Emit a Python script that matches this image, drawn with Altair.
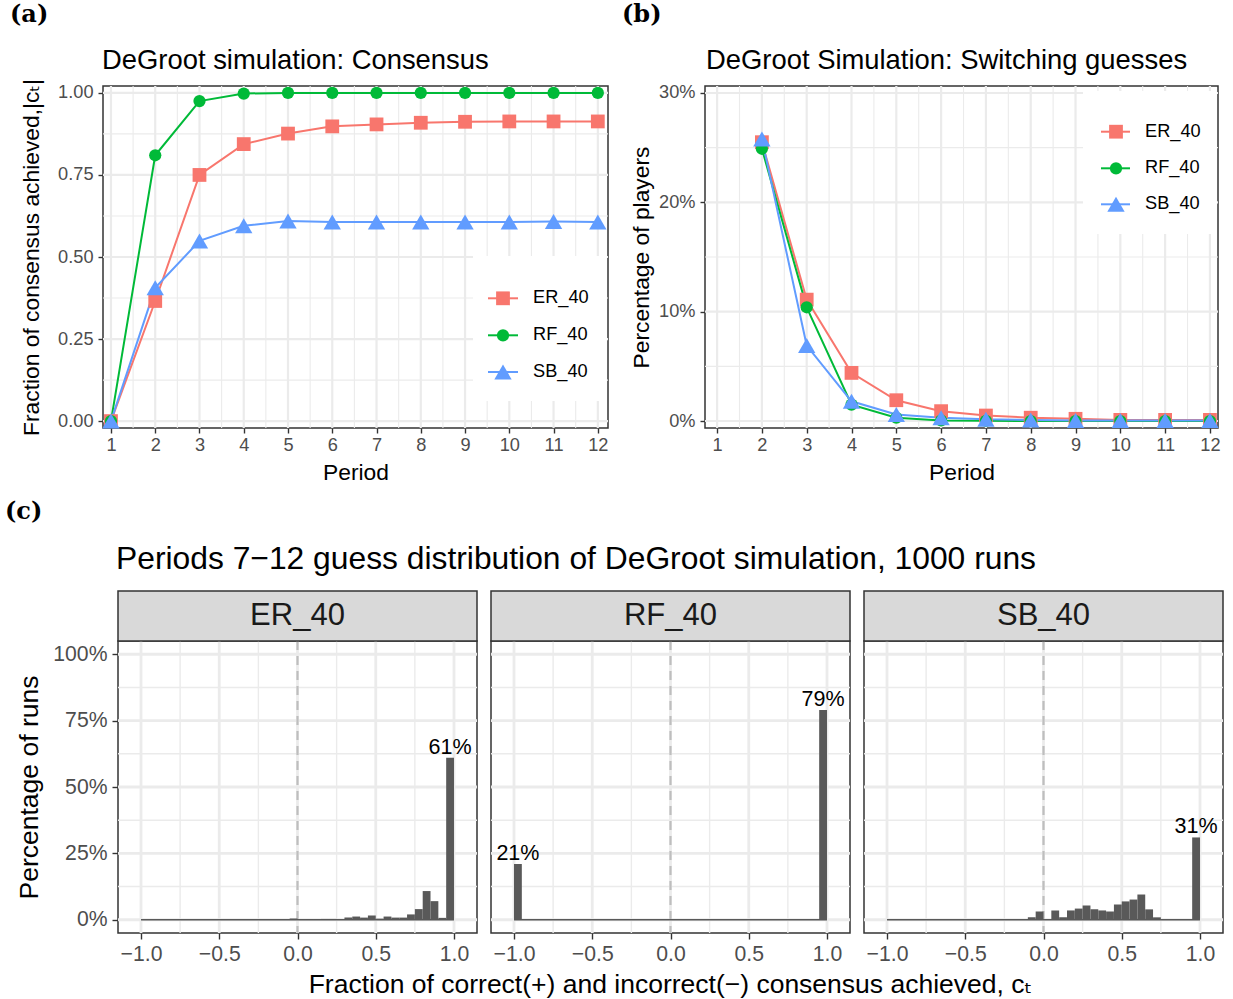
import altair as alt
import pandas as pd

FONT = "Liberation Sans, Arial, Helvetica, DejaVu Sans, sans-serif"
SERIF = "DejaVu Serif, Liberation Serif, serif"
GRID = "#EBEBEB"
BORDER = "#333333"
LABEL = "#4D4D4D"
BARC = "#595959"

# ---------------- data ----------------
series = ["ER_40", "RF_40", "SB_40"]
series_colors = ["#F8766D", "#00BA38", "#619CFF"]
series_shapes = ["square", "circle", "triangle-up"]
series_sizes = [190, 150, 300]

periods_a = [1, 2, 3, 4, 5, 6, 7, 8, 9, 10, 11, 12]
cons_er = [0.0, 0.366, 0.750, 0.844, 0.876, 0.898, 0.904, 0.909, 0.912, 0.913, 0.913, 0.913]
cons_rf = [0.0, 0.810, 0.975, 0.998, 1.0, 1.0, 1.0, 1.0, 1.0, 1.0, 1.0, 1.0]
cons_sb = [0.0, 0.406, 0.549, 0.595, 0.610, 0.607, 0.607, 0.607, 0.607, 0.607, 0.608, 0.607]

periods_b = [2, 3, 4, 5, 6, 7, 8, 9, 10, 11, 12]
sw_er = [25.5, 11.1, 4.4, 1.9, 0.9, 0.5, 0.3, 0.2, 0.1, 0.1, 0.1]
sw_rf = [24.9, 10.4, 1.5, 0.3, 0.05, 0.02, 0.0, 0.0, 0.0, 0.0, 0.0]
sw_sb = [25.8, 6.9, 1.8, 0.6, 0.3, 0.15, 0.1, 0.05, 0.05, 0.05, 0.05]

bin_width = 0.05
bin_left = [round(-1.0 + bin_width * i, 2) for i in range(40)]
hist_er = [0, 0, 0, 0, 0, 0, 0, 0, 0, 0, 0, 0, 0, 0, 0, 0, 0, 0, 0, 0.5,
           0, 0.3, 0.3, 0.3, 0.3, 0.3, 0.8, 1.2, 0.8, 1.6, 0.4, 1.2, 0.8, 0.8, 2.0, 4.0, 10.8, 7.0, 0.7, 61.0]
hist_rf = [21.0, 0, 0, 0, 0, 0, 0, 0, 0, 0, 0, 0, 0, 0, 0, 0, 0, 0, 0, 0,
           0, 0, 0, 0, 0, 0, 0, 0, 0, 0, 0, 0, 0, 0, 0, 0, 0, 0, 0, 79.0]
hist_sb = [0, 0, 0, 0, 0, 0, 0, 0, 0, 0, 0, 0, 0, 0, 0, 0, 0, 0, 0.9, 3.1,
           0, 3.5, 0.9, 3.5, 4.2, 5.4, 3.9, 3.5, 3.1, 5.7, 6.9, 7.6, 9.5, 3.9, 0.9, 0, 0, 0, 0, 31.0]

one = pd.DataFrame({"k": [0]})


def axis_kw(label_size, title_size, tick_size, label_pad):
    return dict(grid=False, domain=False, ticks=True, tickColor=BORDER, tickWidth=1.4,
                tickSize=tick_size, labelColor=LABEL, labelFont=FONT, labelFontSize=label_size,
                labelPadding=label_pad, labelFlush=False, labelOverlap=False,
                titleFont=FONT, titleFontSize=title_size, titleFontWeight="normal",
                titleColor="black", titleAlign="center", titleBaseline="alphabetic")


def vrules(vals, xf, w):
    return alt.Chart(pd.DataFrame({"gx": vals})).mark_rule(color=GRID, strokeWidth=w).encode(x=xf("gx"))


def hrules(vals, yf, w):
    return alt.Chart(pd.DataFrame({"gy": vals})).mark_rule(color=GRID, strokeWidth=w).encode(y=yf("gy"))


def text_at(txt, x, y, size, align="left", baseline="alphabetic", font=FONT, weight="normal", color="black"):
    return alt.Chart(one).mark_text(text=txt, align=align, baseline=baseline, font=font,
                                    fontSize=size, fontWeight=weight, color=color).encode(
        x=alt.value(x), y=alt.value(y))


def legend_layers(x0, x1, xs, xt, ys, box):
    out = [alt.Chart(one).mark_rect(fill="white").encode(
        x=alt.value(box[0]), x2=alt.value(box[1]), y=alt.value(box[2]), y2=alt.value(box[3]))]
    for s, c, sh, sz, yy in zip(series, series_colors, series_shapes, series_sizes, ys):
        out.append(alt.Chart(one).mark_rule(color=c, strokeWidth=2).encode(
            x=alt.value(x0), x2=alt.value(x1), y=alt.value(yy)))
        out.append(alt.Chart(one).mark_point(filled=True, opacity=1, color=c, shape=sh, size=sz).encode(
            x=alt.value(xs), y=alt.value(yy)))
        out.append(text_at(s, xt, yy, 18.2, baseline="middle"))
    return out


def series_layers(periods, ys_list, xf, yf):
    df = pd.DataFrame({"period": periods * 3,
                       "value": ys_list[0] + ys_list[1] + ys_list[2],
                       "series": [s for s in series for _ in periods]})
    lines = []
    pts = []
    for s, c, sh, sz in zip(series, series_colors, series_shapes, series_sizes):
        d = df[df.series == s]
        lines.append(alt.Chart(d).mark_line(color=c, strokeWidth=2).encode(x=xf("period"), y=yf("value")))
        pts.append(alt.Chart(d).mark_point(filled=True, opacity=1, color=c, shape=sh, size=sz).encode(
            x=xf("period"), y=yf("value")))
    return lines + pts


VIEW = alt.ViewBackground(stroke=BORDER, strokeWidth=1.5, fill="white")

# ---------------- panel (a) ----------------
WA, HA = 505, 342
xs_a = alt.Scale(domain=[0.82, 12.23], nice=False, zero=False)
ys_a = alt.Scale(domain=[-0.021, 1.021], nice=False, zero=False)
top_kw = axis_kw(18.2, 22.8, 5, 3)
xax_a = alt.Axis(values=periods_a, format="d", title="Period", titleX=WA / 2, titleY=51, **top_kw)
yax_a = alt.Axis(values=[0, 0.25, 0.5, 0.75, 1.0], format=".2f",
                 title="Fraction of consensus achieved,|cₜ|", titleAngle=270,
                 titleX=-64.5, titleY=HA / 2, **{**top_kw, "labelPadding": 5})


def xa(f):
    return alt.X(f"{f}:Q", scale=xs_a, axis=xax_a)


def ya(f):
    return alt.Y(f"{f}:Q", scale=ys_a, axis=yax_a)


minor_x_top = [1.5, 2.5, 3.5, 4.5, 5.5, 6.5, 7.5, 8.5, 9.5, 10.5, 11.5]
layers_a = [
    vrules(minor_x_top, xa, 1.1),
    hrules([0.125, 0.375, 0.625, 0.875], ya, 1.1),
    vrules(periods_a, xa, 2.2),
    hrules([0, 0.25, 0.5, 0.75, 1.0], ya, 2.2),
]
layers_a += series_layers(periods_a, [cons_er, cons_rf, cons_sb], xa, ya)
layers_a += legend_layers(385, 415, 400, 430, [212.3, 249.3, 286.0], [370, 504, 170, 315])
layers_a += [
    text_at("DeGroot simulation: Consensus", -1, -17, 27.4),
    text_at("(a)", -93, -83, 24, baseline="top", font=SERIF, weight="bold"),
]
panel_a = alt.layer(*layers_a).properties(width=WA, height=HA, view=VIEW)

# ---------------- panel (b) ----------------
WB, HB = 513, 342
xs_b = alt.Scale(domain=[0.73, 12.18], nice=False, zero=False)
ys_b = alt.Scale(domain=[-0.64, 30.64], nice=False, zero=False)
xax_b = alt.Axis(values=periods_a, format="d", title="Period", titleX=WB / 2, titleY=51, **top_kw)
yax_b = alt.Axis(values=[0, 10, 20, 30], labelExpr="datum.value + '%'",
                 title="Percentage of players", titleAngle=270,
                 titleX=-56.5, titleY=HB / 2, **{**top_kw, "labelPadding": 5})


def xb(f):
    return alt.X(f"{f}:Q", scale=xs_b, axis=xax_b)


def yb(f):
    return alt.Y(f"{f}:Q", scale=ys_b, axis=yax_b)


layers_b = [
    vrules(minor_x_top, xb, 1.1),
    hrules([5, 15, 25], yb, 1.1),
    vrules(periods_a, xb, 2.2),
    hrules([0, 10, 20, 30], yb, 2.2),
]
layers_b += series_layers(periods_b, [sw_er, sw_rf, sw_sb], xb, yb)
layers_b += legend_layers(396, 425, 411, 440, [45.7, 82.3, 118.3], [378, 512, 5, 148])
layers_b += [
    text_at("DeGroot Simulation: Switching guesses", 1, -17, 27.4),
    text_at("(b)", -83, -83, 24, baseline="top", font=SERIF, weight="bold"),
]
panel_b = alt.layer(*layers_b).properties(width=WB, height=HB, view=VIEW)

# ---------------- panel (c) ----------------
WC, HC = 359, 292
xs_c = alt.Scale(domain=[-1.147, 1.147], nice=False, zero=False)
ys_c = alt.Scale(domain=[-5, 105], nice=False, zero=False)
bot_kw = axis_kw(21.2, 26.5, 6, 4)


def facet_panel(name, vals, first, extra):
    xax = alt.Axis(values=[-1.0, -0.5, 0.0, 0.5, 1.0], format=".1f", title=None, **bot_kw)
    if first:
        yax = alt.Axis(values=[0, 25, 50, 75, 100], labelExpr="datum.value + '%'",
                       title="Percentage of runs", titleAngle=270, titleX=-81, titleY=HC / 2,
                       **{**bot_kw, "labelPadding": 5})
    else:
        yax = None

    def xc(f):
        return alt.X(f"{f}:Q", scale=xs_c, axis=xax)

    def yc(f):
        return alt.Y(f"{f}:Q", scale=ys_c, axis=yax)

    df = pd.DataFrame({"lo": bin_left, "pct": vals})
    df["hi"] = df["lo"] + bin_width
    df["mid"] = df["lo"] + bin_width / 2
    lab = df[df["pct"] >= 15].copy()
    lab["txt"] = lab["pct"].round().astype(int).astype(str) + "%"
    base = pd.DataFrame({"a": [bin_left[0]], "b": [bin_left[-1] + bin_width], "z": [0.0]})

    layers = [
        vrules([-0.75, -0.25, 0.25, 0.75], xc, 1.4),
        hrules([12.5, 37.5, 62.5, 87.5], yc, 1.4),
        vrules([-1.0, -0.5, 0.0, 0.5, 1.0], xc, 2.8),
        hrules([0, 25, 50, 75, 100], yc, 2.8),
        alt.Chart(pd.DataFrame({"v0": [0.0]})).mark_rule(color="#BEBEBE", strokeWidth=2.2,
                                                         strokeDash=[9, 6]).encode(x=xc("v0")),
        alt.Chart(base).mark_rule(color=BARC, strokeWidth=1.5).encode(x=xc("a"), x2="b:Q", y=yc("z")),
        alt.Chart(df).mark_rect(color=BARC).encode(x=xc("lo"), x2="hi:Q", y=yc("pct"), y2=alt.datum(0)),
        alt.Chart(lab).mark_text(font=FONT, fontSize=21.5, baseline="alphabetic", dy=-4,
                                 color="black").encode(x=xc("mid"), y=yc("pct"), text="txt:N"),
        alt.Chart(one).mark_rect(fill="#D9D9D9", stroke=BORDER, strokeWidth=1.5).encode(
            x=alt.value(0), x2=alt.value(WC), y=alt.value(-50), y2=alt.value(0)),
        text_at(name, WC / 2, -25, 31, align="center", baseline="middle", color="#1A1A1A"),
    ]
    layers += extra
    return alt.layer(*layers).properties(width=WC, height=HC, view=VIEW)


c1 = facet_panel("ER_40", hist_er, True, [
    text_at("Periods 7−12 guess distribution of DeGroot simulation, 1000 runs", -2, -72, 31.8),
    text_at("(c)", -113, -141, 24, baseline="top", font=SERIF, weight="bold"),
])
c2 = facet_panel("RF_40", hist_rf, False, [
    text_at("Fraction of correct(+) and incorrect(−) consensus achieved, cₜ", WC / 2, 352, 26.5,
            align="center"),
])
c3 = facet_panel("SB_40", hist_sb, False, [])

spacer = alt.Chart(one).mark_point(opacity=0).encode(x=alt.value(0), y=alt.value(0)).properties(
    width=0.01, height=HC, view=alt.ViewBackground(strokeWidth=0))

top = alt.hconcat(panel_a, panel_b, spacing=97, bounds="flush")
bottom = alt.hconcat(spacer, c1, c2, c3, spacing=14, bounds="flush")

chart = alt.vconcat(top, bottom, spacing=555, bounds="flush").properties(
    padding={"left": 4, "top": 2, "right": 3, "bottom": 2}, background="white"
).configure_view(strokeWidth=0)

chart.save("out.html", embed_options={"renderer": "svg", "actions": False})
